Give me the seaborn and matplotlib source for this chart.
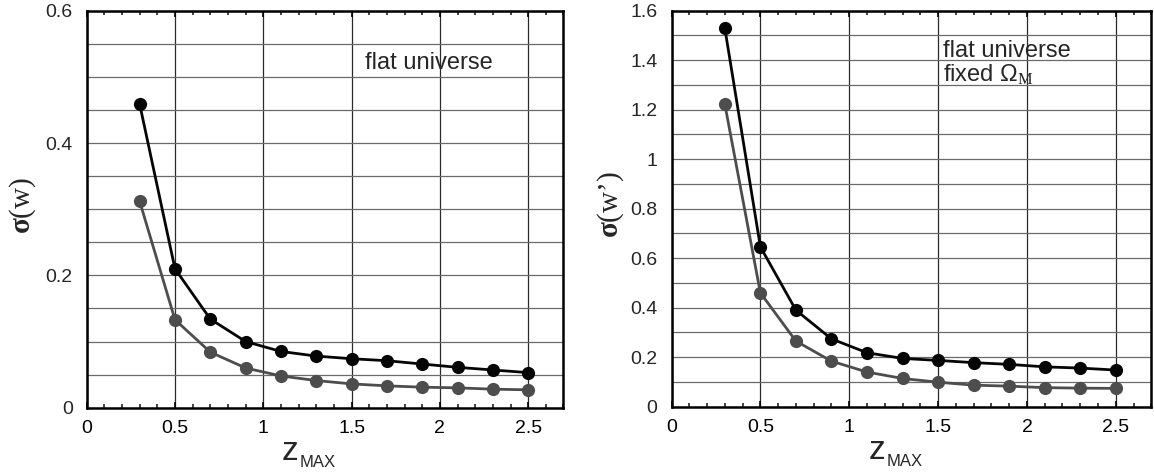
import numpy as np
import pandas as pd
import matplotlib
matplotlib.use("Agg")
import matplotlib.pyplot as plt
from matplotlib.ticker import MultipleLocator, FuncFormatter
import seaborn as sns

# redshift depth of the survey
z_max = [0.3, 0.5, 0.7, 0.9, 1.1, 1.3, 1.5, 1.7, 1.9, 2.1, 2.3, 2.5]

# sigma(w), flat universe
sigma_w_black = [0.459, 0.210, 0.134, 0.100, 0.085, 0.078, 0.074, 0.071, 0.066, 0.061, 0.057, 0.053]
sigma_w_gray = [0.312, 0.133, 0.084, 0.060, 0.048, 0.041, 0.036, 0.033, 0.031, 0.030, 0.028, 0.027]

# sigma(w'), flat universe with fixed Omega_M
sigma_wp_black = [1.529, 0.646, 0.390, 0.274, 0.218, 0.195, 0.187, 0.178, 0.171, 0.161, 0.156, 0.148]
sigma_wp_gray = [1.222, 0.460, 0.265, 0.184, 0.140, 0.114, 0.099, 0.087, 0.083, 0.077, 0.075, 0.074]

sns.set_style("white")
plt.rcParams["font.family"] = ["Liberation Sans", "DejaVu Sans"]
plt.rcParams["mathtext.fontset"] = "custom"
plt.rcParams["mathtext.rm"] = "Liberation Serif"
plt.rcParams["mathtext.bf"] = "Liberation Serif:bold"
plt.rcParams["mathtext.sf"] = "Liberation Sans"
plt.rcParams["mathtext.it"] = "Liberation Serif:italic"

BLACK = "#050505"
GRAY = "#4d4d4d"

fig = plt.figure(figsize=(11.54, 4.76), dpi=100)
ax1 = fig.add_axes([0.0751, 0.1435, 0.4132, 0.834])
ax2 = fig.add_axes([0.5819, 0.1456, 0.4158, 0.832])

fmt = FuncFormatter(lambda v, p: f"{v:g}")


def style_axes(ax, ymax, ymajor, yminor):
    ax.set_xlim(0, 2.7)
    ax.set_ylim(0, ymax)
    ax.xaxis.set_major_locator(MultipleLocator(0.5))
    ax.xaxis.set_minor_locator(MultipleLocator(0.1))
    ax.yaxis.set_major_locator(MultipleLocator(ymajor))
    ax.yaxis.set_minor_locator(MultipleLocator(yminor))
    ax.xaxis.set_major_formatter(fmt)
    ax.yaxis.set_major_formatter(fmt)
    ax.grid(True, axis="x", which="major", color="#2a2a2a", linewidth=0.9)
    ax.grid(True, axis="y", which="both", color="#6a6a6a", linewidth=0.9)
    ax.set_axisbelow(True)
    ax.tick_params(axis="x", which="major", direction="in", top=True, bottom=True,
                   length=4.5, width=1.2, labelsize=14, pad=9, colors="black")
    ax.tick_params(axis="x", which="minor", direction="in", top=True, bottom=True,
                   length=3.2, width=1.2)
    ax.tick_params(axis="y", which="both", length=0, labelsize=14, pad=10)
    for s in ax.spines.values():
        s.set_visible(True)
        s.set_color("black")
        s.set_linewidth(1.8)
    ax.set_xlabel("")
    ax.set_ylabel("")


def draw_series(ax, ys_gray, ys_black):
    df = pd.DataFrame({"z": z_max, "gray": ys_gray, "black": ys_black})
    sns.lineplot(data=df, x="z", y="gray", ax=ax, color=GRAY, marker="o",
                 markersize=9.5, markeredgewidth=0, linewidth=2.0, zorder=3)
    sns.lineplot(data=df, x="z", y="black", ax=ax, color=BLACK, marker="o",
                 markersize=9.5, markeredgewidth=0, linewidth=2.0, zorder=4)


draw_series(ax1, sigma_w_gray, sigma_w_black)
draw_series(ax2, sigma_wp_gray, sigma_wp_black)
style_axes(ax1, 0.6, 0.2, 0.05)
style_axes(ax2, 1.6, 0.2, 0.1)

# axis titles
for ax, zx, mx, ylab, yx in [
    (ax1, 0.409, 0.447, r"$\mathbf{\sigma}$(w)", -0.134),
    (ax2, 0.411, 0.449, r"$\mathbf{\sigma}$(w’)", -0.127),
]:
    ax.text(zx, -0.1317, "z", transform=ax.transAxes, fontsize=24,
            ha="left", va="baseline")
    ax.text(mx, -0.1486, "MAX", transform=ax.transAxes, fontsize=12,
            ha="left", va="baseline")
    ax.text(yx, 0.51, ylab, transform=ax.transAxes, fontsize=21, rotation=90,
            ha="center", va="center", family="Liberation Serif")

# annotations
ax1.text(1.575, 0.512, "flat universe", fontsize=17, ha="left", va="baseline")
ax2.text(1.53, 1.414, "flat universe", fontsize=17, ha="left", va="baseline")
ax2.text(1.53, 1.313, r"fixed $\mathsf{\Omega}_{\mathrm{M}}$", fontsize=17,
         ha="left", va="baseline")

fig.savefig("out.png", dpi=100)
